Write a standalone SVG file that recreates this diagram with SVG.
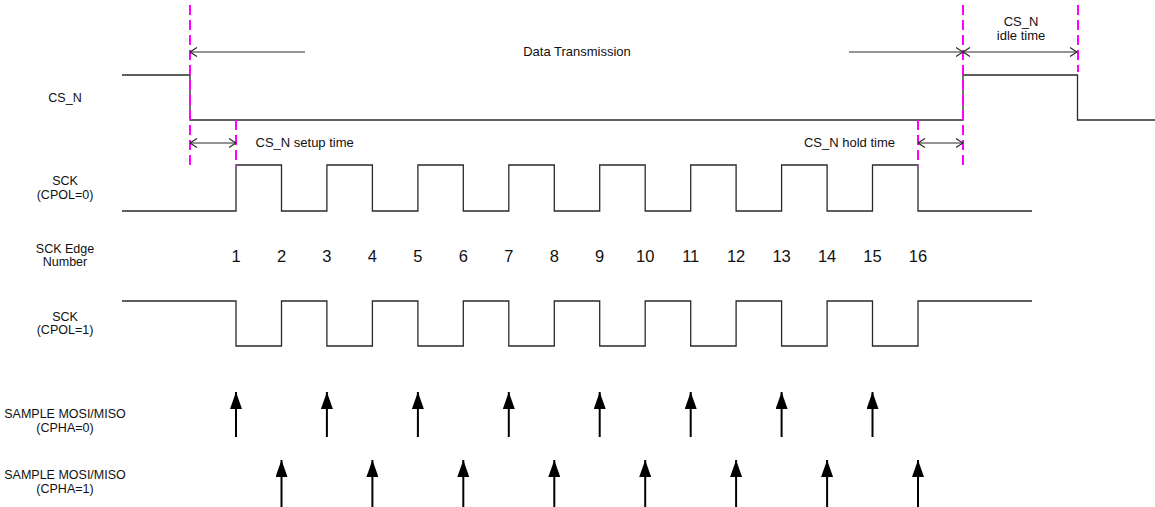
<svg xmlns="http://www.w3.org/2000/svg" width="1155" height="507" viewBox="0 0 1155 507">
<style>
.wave{fill:none;stroke:#2a2a2a;stroke-width:1.3}
.dash{fill:none;stroke:#ff00ff;stroke-width:2;stroke-dasharray:10 5}
.dim{fill:none;stroke:#2a2a2a;stroke-width:1.2}
.samp{stroke:#000;stroke-width:2}
.lbl{font-family:"Liberation Sans",Arial,sans-serif;font-size:12.5px;fill:#111;text-anchor:middle}
.ann{font-family:"Liberation Sans",Arial,sans-serif;font-size:13px;fill:#111}
.num{font-family:"Liberation Sans",Arial,sans-serif;font-size:16.5px;fill:#111;text-anchor:middle}
</style>
<defs>
<marker id="open" viewBox="0 0 8 10" refX="7.5" refY="5" markerWidth="8" markerHeight="10" markerUnits="userSpaceOnUse" orient="auto-start-reverse">
<path d="M0.5,0.5 L7.5,5 L0.5,9.5" fill="none" stroke="#2a2a2a" stroke-width="1.2"/>
</marker>
<marker id="tri" viewBox="0 0 17 12" refX="17" refY="6" markerWidth="17" markerHeight="12" markerUnits="userSpaceOnUse" orient="auto">
<path d="M0,0 L17,6 L0,12 Z" fill="#000"/>
</marker>
</defs>
<rect width="1155" height="507" fill="#fff"/>

<g id="labels">
<text class="lbl" x="65" y="101.5">CS_N</text>
<text class="lbl" x="65" y="185">SCK</text>
<text class="lbl" x="65" y="198.5">(CPOL=0)</text>
<text class="lbl" x="65" y="252.5">SCK Edge</text>
<text class="lbl" x="65" y="266">Number</text>
<text class="lbl" x="65" y="320.5">SCK</text>
<text class="lbl" x="65" y="334">(CPOL=1)</text>
<text class="lbl" x="65" y="418">SAMPLE MOSI/MISO</text>
<text class="lbl" x="65" y="431.5">(CPHA=0)</text>
<text class="lbl" x="65" y="479">SAMPLE MOSI/MISO</text>
<text class="lbl" x="65" y="492.5">(CPHA=1)</text>
</g>

<g id="cs_n">
<path class="wave" d="M122,75 H190 V120 H963 V75 H1077.5 V120 H1155"/>
</g>

<g id="sck_cpol0">
<path class="wave" d="M122,211 H236 V165 H281.5 V211 H326.9 V165 H372.4 V211 H417.9 V165 H463.3 V211 H508.8 V165 H554.3 V211 H599.7 V165 H645.2 V211 H690.7 V165 H736.1 V211 H781.6 V165 H827.1 V211 H872.5 V165 H918 V211 H1032"/>
</g>

<g id="sck_cpol1">
<path class="wave" d="M122,301 H236 V346 H281.5 V301 H326.9 V346 H372.4 V301 H417.9 V346 H463.3 V301 H508.8 V346 H554.3 V301 H599.7 V346 H645.2 V301 H690.7 V346 H736.1 V301 H781.6 V346 H827.1 V301 H872.5 V346 H918 V301 H1032"/>
</g>

<g id="edge_numbers">
<text class="num" x="236" y="262">1</text>
<text class="num" x="281.5" y="262">2</text>
<text class="num" x="326.9" y="262">3</text>
<text class="num" x="372.4" y="262">4</text>
<text class="num" x="417.9" y="262">5</text>
<text class="num" x="463.3" y="262">6</text>
<text class="num" x="508.8" y="262">7</text>
<text class="num" x="554.3" y="262">8</text>
<text class="num" x="599.7" y="262">9</text>
<text class="num" x="645.2" y="262">10</text>
<text class="num" x="690.7" y="262">11</text>
<text class="num" x="736.1" y="262">12</text>
<text class="num" x="781.6" y="262">13</text>
<text class="num" x="827.1" y="262">14</text>
<text class="num" x="872.5" y="262">15</text>
<text class="num" x="918" y="262">16</text>
</g>

<g id="markers">
<line class="dash" x1="190" y1="5" x2="190" y2="166"/>
<line class="dash" x1="236" y1="120" x2="236" y2="166"/>
<line class="dash" x1="918" y1="120" x2="918" y2="166"/>
<line class="dash" x1="963" y1="5" x2="963" y2="166"/>
<line class="dash" x1="1078" y1="5" x2="1078" y2="72"/>
</g>

<g id="annotations">
<text class="ann" x="577" y="56" text-anchor="middle">Data Transmission</text>
<text class="ann" x="255.5" y="147">CS_N setup time</text>
<text class="ann" x="895" y="147" text-anchor="end">CS_N hold time</text>
<text class="ann" x="1021" y="26" text-anchor="middle">CS_N</text>
<text class="ann" x="1021" y="40" text-anchor="middle">idle time</text>
</g>

<g id="connectors">
<line class="dim" x1="305" y1="52" x2="190" y2="52" marker-end="url(#open)"/>
<line class="dim" x1="849" y1="52" x2="963" y2="52" marker-end="url(#open)"/>
<line class="dim" x1="963" y1="52" x2="1077" y2="52" marker-start="url(#open)" marker-end="url(#open)"/>
<line class="dim" x1="190" y1="143" x2="236" y2="143" marker-start="url(#open)" marker-end="url(#open)"/>
<line class="dim" x1="918" y1="143" x2="963" y2="143" marker-start="url(#open)" marker-end="url(#open)"/>

<line class="samp" x1="236" y1="437" x2="236" y2="392" marker-end="url(#tri)"/>
<line class="samp" x1="326.9" y1="437" x2="326.9" y2="392" marker-end="url(#tri)"/>
<line class="samp" x1="417.9" y1="437" x2="417.9" y2="392" marker-end="url(#tri)"/>
<line class="samp" x1="508.8" y1="437" x2="508.8" y2="392" marker-end="url(#tri)"/>
<line class="samp" x1="599.7" y1="437" x2="599.7" y2="392" marker-end="url(#tri)"/>
<line class="samp" x1="690.7" y1="437" x2="690.7" y2="392" marker-end="url(#tri)"/>
<line class="samp" x1="781.6" y1="437" x2="781.6" y2="392" marker-end="url(#tri)"/>
<line class="samp" x1="872.5" y1="437" x2="872.5" y2="392" marker-end="url(#tri)"/>

<line class="samp" x1="281.5" y1="507" x2="281.5" y2="460" marker-end="url(#tri)"/>
<line class="samp" x1="372.4" y1="507" x2="372.4" y2="460" marker-end="url(#tri)"/>
<line class="samp" x1="463.3" y1="507" x2="463.3" y2="460" marker-end="url(#tri)"/>
<line class="samp" x1="554.3" y1="507" x2="554.3" y2="460" marker-end="url(#tri)"/>
<line class="samp" x1="645.2" y1="507" x2="645.2" y2="460" marker-end="url(#tri)"/>
<line class="samp" x1="736.1" y1="507" x2="736.1" y2="460" marker-end="url(#tri)"/>
<line class="samp" x1="827.1" y1="507" x2="827.1" y2="460" marker-end="url(#tri)"/>
<line class="samp" x1="918" y1="507" x2="918" y2="460" marker-end="url(#tri)"/>
</g>
</svg>
